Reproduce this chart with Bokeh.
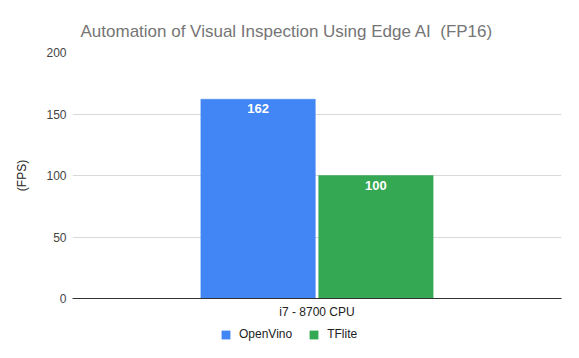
from bokeh.plotting import figure
from bokeh.models import ColumnDataSource, FactorRange, Range1d, LabelSet, Legend, LegendItem
from bokeh.layouts import column
from bokeh.core.properties import value
from bokeh.transform import dodge
from bokeh.embed import file_html
from bokeh.resources import INLINE

# ---- data ----
devices = ["i7 - 8700 CPU"]
series_names = ["OpenVino", "TFlite"]
openvino_fps = [162]
tflite_fps = [100]
y_ticks = [0, 50, 100, 150, 200]
title_text = "Automation of Visual Inspection Using Edge AI\u00a0\u00a0(FP16)"
y_label = "(FPS)"

colors = ["#4285F4", "#34A853"]
FONT = "Liberation Sans"

src = ColumnDataSource(dict(
    device=devices,
    openvino=openvino_fps,
    tflite=tflite_fps,
    openvino_txt=[str(v) for v in openvino_fps],
    tflite_txt=[str(v) for v in tflite_fps],
))

p = figure(
    width=579, height=322,
    x_range=FactorRange(*devices, range_padding=0),
    y_range=Range1d(0, 200),
    output_backend="svg", toolbar_location=None,
    min_border_left=72, min_border_right=18, min_border_top=52, min_border_bottom=24,
)
p.outline_line_color = None
p.background_fill_color = "white"
p.border_fill_color = "white"

bw = 0.234
off = 0.1205
r1 = p.vbar(x=dodge("device", -off, range=p.x_range), top="openvino", width=bw,
            source=src, fill_color=colors[0], line_color=colors[0], line_width=0.5)
r2 = p.vbar(x=dodge("device", off, range=p.x_range), top="tflite", width=bw,
            source=src, fill_color=colors[1], line_color=colors[1], line_width=0.5)

for col, dx in (("openvino", -off), ("tflite", off)):
    p.add_layout(LabelSet(
        x=dodge("device", dx, range=p.x_range), y=col, text=col + "_txt", source=src,
        y_offset=-5, text_align="center", text_baseline="top",
        text_color="white", text_font=value(FONT), text_font_size="13px",
        text_font_style="bold",
    ))

# axes
p.yaxis.ticker = y_ticks
p.yaxis.axis_line_color = None
p.yaxis.major_tick_line_color = None
p.yaxis.minor_tick_line_color = None
p.yaxis.major_tick_out = 0
p.yaxis.major_tick_in = 0
p.yaxis.major_label_standoff = 6
p.yaxis.major_label_text_font = FONT
p.yaxis.major_label_text_font_size = "12px"
p.yaxis.major_label_text_color = "#444444"
p.yaxis.axis_label = y_label
p.yaxis.axis_label_text_font = FONT
p.yaxis.axis_label_text_font_size = "12px"
p.yaxis.axis_label_text_font_style = "normal"
p.yaxis.axis_label_text_color = "#222222"
p.yaxis.axis_label_standoff = 14

p.xaxis.axis_line_color = "#333333"
p.xaxis.axis_line_width = 1
p.xaxis.major_tick_line_color = None
p.xaxis.minor_tick_line_color = None
p.xaxis.major_tick_out = 0
p.xaxis.major_tick_in = 0
p.xaxis.major_label_standoff = 6
p.xaxis.major_label_text_font = FONT
p.xaxis.major_label_text_font_size = "12px"
p.xaxis.major_label_text_color = "#222222"

p.xgrid.grid_line_color = None
p.ygrid.grid_line_color = "#d9d9d9"
p.ygrid.grid_line_width = 1

# title
p.title.text = title_text
p.title.align = "left"
p.title.offset = 8
p.title.standoff = 24
p.title.text_font = FONT
p.title.text_font_size = "17px"
p.title.text_font_style = "normal"
p.title.text_color = "#757575"

# legend strip below the chart (its frame is aligned with the chart's frame)
lg = figure(
    width=579, height=36, x_range=FactorRange(*devices), y_range=Range1d(0, 1),
    output_backend="svg", toolbar_location=None,
    x_axis_type=None, y_axis_type=None, min_border=0,
)
lg.outline_line_color = None
lg.grid.visible = False
lg.background_fill_color = "white"
lg.border_fill_color = "white"
# legend-only renderers: zero-size, no outline, so only their legend swatches show
g1 = lg.vbar(x="device", top="openvino", bottom="openvino", width=0, source=src,
             fill_color=colors[0], line_color=None)
g2 = lg.vbar(x="device", top="tflite", bottom="tflite", width=0, source=src,
             fill_color=colors[1], line_color=None)
legend = Legend(
    items=[LegendItem(label=series_names[0], renderers=[g1]),
           LegendItem(label=series_names[1], renderers=[g2])],
    orientation="horizontal", location=(148, 17),
    border_line_color=None, background_fill_alpha=0,
    glyph_width=11, glyph_height=11, label_standoff=8, spacing=16,
    padding=0, margin=0,
    label_text_font=FONT, label_text_font_size="12px", label_text_color="#222222",
)
lg.add_layout(legend)

layout = column(p, lg, spacing=0)
open("out.html", "w").write(file_html(layout, INLINE))
